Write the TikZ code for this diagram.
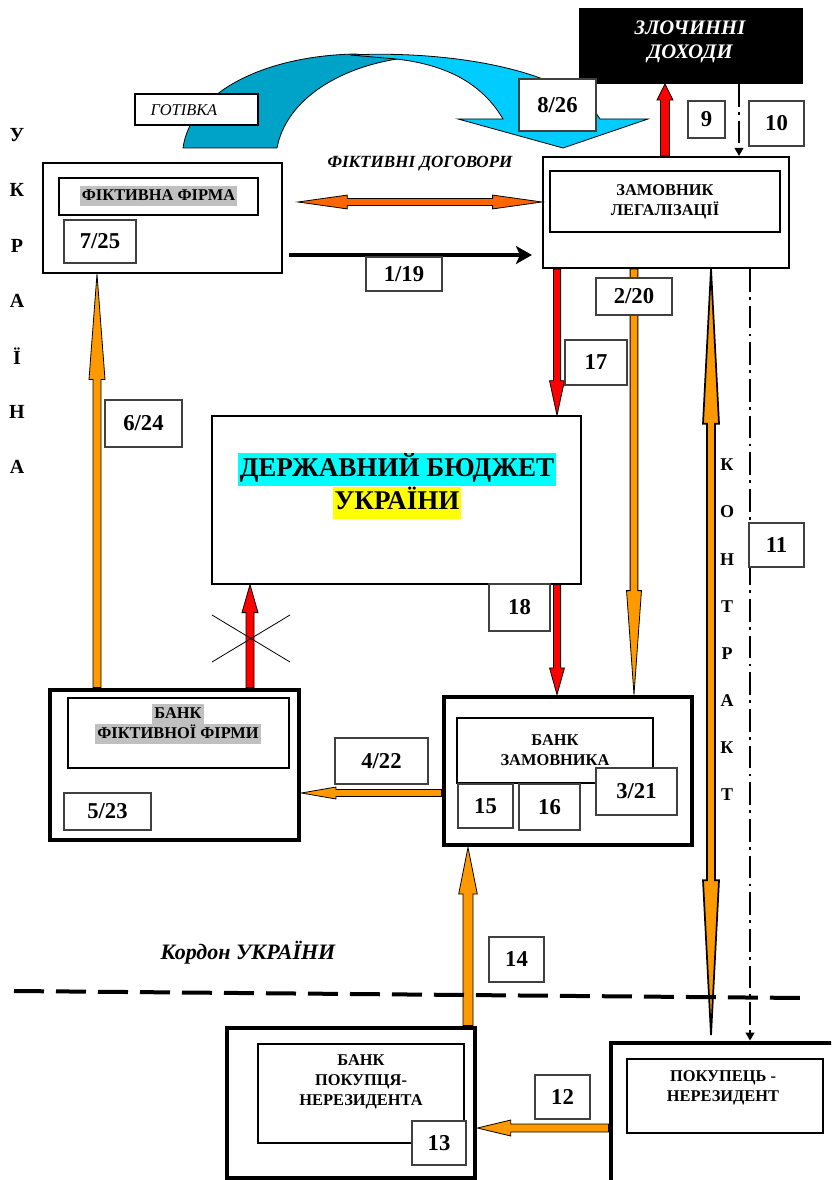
\documentclass[tikz,border=0pt]{standalone}
\usepackage{fontspec}
\setmainfont{Liberation Serif}
\usetikzlibrary{arrows.meta,positioning,calc}

\definecolor{arrorange}{HTML}{FF9900}
\definecolor{dealorange}{HTML}{FF6600}
\definecolor{cashdark}{HTML}{00A3C8}
\definecolor{cashlight}{HTML}{00CCFF}
\definecolor{hlgray}{HTML}{C0C0C0}
\definecolor{hlcyan}{HTML}{00FFFF}
\definecolor{hlyellow}{HTML}{FFFF00}

\newcommand{\numfnt}{\bfseries\fontsize{17}{20}\selectfont}
\newcommand{\boxfnt}{\bfseries\fontsize{12.3}{15}\selectfont}
\newcommand{\hlbox}[2]{{\fboxsep=0pt\colorbox{#1}{\strut\kern1.5pt#2\kern1.5pt}}}

% block arrow: style, shaft half width, head half width, head length, from, to
\newcommand{\blockarrow}[6]{%
  \coordinate (fa-h) at ($(#6)!#4!(#5)$);
  \filldraw[#1] ($(#5)!#2!90:(#6)$) -- ($(fa-h)!#2!90:(#6)$) -- ($(fa-h)!#3!90:(#6)$)
    -- (#6) -- ($(fa-h)!#3!-90:(#6)$) -- ($(fa-h)!#2!-90:(#6)$) -- ($(#5)!#2!-90:(#6)$) -- cycle;
}
% the same with a head at each end
\newcommand{\doublearrow}[6]{%
  \coordinate (fa-a) at ($(#5)!#4!(#6)$);
  \coordinate (fa-b) at ($(#6)!#4!(#5)$);
  \filldraw[#1] (#5) -- ($(fa-a)!#3!90:(#6)$) -- ($(fa-a)!#2!90:(#6)$) -- ($(fa-b)!#2!90:(#6)$)
    -- ($(fa-b)!#3!90:(#6)$) -- (#6) -- ($(fa-b)!#3!-90:(#6)$) -- ($(fa-b)!#2!-90:(#6)$)
    -- ($(fa-a)!#2!-90:(#6)$) -- ($(fa-a)!#3!-90:(#6)$) -- cycle;
}

\begin{document}
\begin{tikzpicture}[
    x=0.75pt, y=-0.75pt,
    font=\boxfnt,
    rect/.style 2 args={minimum width=#1*0.75pt, minimum height=#2*0.75pt},
    outerbox/.style={draw, line width=1.6pt, inner sep=0pt},
    bankbox/.style={draw, line width=3.6pt, inner sep=0pt},
    thinbox/.style={draw, line width=0.9pt, inner sep=0pt, fill=white},
    innerbox/.style={draw, line width=0.8pt, inner sep=0pt, align=center, font=\boxfnt},
    numbox/.style={draw=black!75, line width=0.9pt, fill=white, inner sep=0pt, font=\numfnt},
    orangearr/.style={fill=arrorange, draw=black, line width=0.6pt},
    redarr/.style={fill=red, draw=black, line width=0.6pt},
    dealarr/.style={fill=dealorange, draw=black, line width=0.6pt},
    contractarr/.style={fill=arrorange, draw=black, line width=1.3pt},
    payline/.style={line width=2.3pt, -{Stealth[length=12pt, width=13.5pt, inset=3pt]}},
    dashdotline/.style={line width=1.5pt, dash pattern=on 17pt off 4pt on 2pt off 4.5pt,
        -{Triangle[length=6pt, width=6.5pt]}},
    bigletter/.style={font=\bfseries\fontsize{15}{17}\selectfont},
    smallletter/.style={font=\bfseries\fontsize{13.5}{16}\selectfont},
    italictext/.style={font=\bfseries\itshape\fontsize{12.8}{15}\selectfont}
]
    \path[use as bounding box, fill=white] (0,0) rectangle (831,1180);
    \clip (0,0) rectangle (831,1180);

    % Cash flow (curved arrow)
    \path[fill=cashdark, draw=black, line width=0.6pt] (183,148) .. controls (190,95) and (260,56) .. (355,54)
        -- (397,59) .. controls (330,70) and (285,105) .. (277,148) -- cycle;
    \path[fill=cashlight, draw=black, line width=0.6pt] (350,55) .. controls (450,50) and (570,70) .. (600,119)
        -- (648,119) -- (563,148) -- (458,119) -- (503,119) .. controls (480,80) and (440,62) .. (385,58) -- cycle;

    % Node placement
    \node[outerbox, fill=black, rect={222}{74}] (crime) at (691,46) {};
    \node[text=white, font=\bfseries\itshape\fontsize{15.5}{17.5}\selectfont, align=center] (crimetxt) at (690,42) {ЗЛОЧИННІ\\ДОХОДИ};
    \node[thinbox, rect={123}{31}] (cash) at (196.5,109.5) {};
    \node[font=\itshape\fontsize{12.3}{14}\selectfont, anchor=west] (cashtxt) at (146,110) {ГОТІВКА};

    \node[outerbox, rect={246}{111}] (client) at (666,212.5) {};
    \node[innerbox, rect={230}{61}] (clientin) at (665,201.5) {ЗАМОВНИК\\ЛЕГАЛІЗАЦІЇ};

    \node[outerbox, rect={239}{110}] (fict) at (162.5,218) {};
    \node[innerbox, rect={199}{37}] (fictin) at (158.5,196.5) {\hlbox{hlgray}{ФІКТИВНА ФІРМА}};

    \node[thinbox, rect={369}{168}] (budget) at (396.5,500) {};
    \node[font=\bfseries\fontsize{20.3}{23.5}\selectfont, align=center] (budgettxt) at (397,486)
        {\hlbox{hlcyan}{ДЕРЖАВНИЙ БЮДЖЕТ}\\\hlbox{hlyellow}{УКРАЇНИ}};

    \node[bankbox, rect={249}{150}] (bankf) at (174.5,765) {};
    \node[innerbox, rect={221}{70}] (bankfin) at (178.5,733) {};
    \node[align=center] (bankftxt) at (178,724) {\hlbox{hlgray}{БАНК}\\\hlbox{hlgray}{ФІКТИВНОЇ ФІРМИ}};

    \node[bankbox, rect={248}{148}] (bankc) at (568,771) {};
    \node[innerbox, rect={196}{65}] (bankcin) at (555,750.5) {БАНК\\ЗАМОВНИКА};

    \node[bankbox, rect={248}{150}] (bankb) at (351,1103) {};
    \node[innerbox, rect={206}{99}] (bankbin) at (361,1093.5) {};
    \node[align=center] (bankbtxt) at (361,1082) {БАНК\\ПОКУПЦЯ-\\НЕРЕЗИДЕНТА};

    \node[bankbox, rect={239}{157}] (buyer) at (730.5,1121.5) {};
    \node[innerbox, rect={196}{74}] (buyerin) at (725,1096) {};
    \node[align=center] (buyertxt) at (723,1088) {ПОКУПЕЦЬ -\\НЕРЕЗИДЕНТ};

    \coordinate (dealstart) at (298,202);
    \coordinate (paystart) at (289,255);
    \coordinate (contractend) at (711,1035);

    % Connections
    \blockarrow{redarr}{3.4pt}{6pt}{12pt}{665,0 |- client.north}{665,0 |- crime.south}
    \draw[dashdotline] (739,0 |- crime.south) -- (739,0 |- client.north);
    \doublearrow{dealarr}{2.6pt}{5.2pt}{37pt}{dealstart}{client.west |- dealstart}
    \draw[payline, shorten >=7.5pt] (paystart) -- (client.west |- paystart);
    \blockarrow{orangearr}{3pt}{6pt}{79pt}{97,0 |- bankf.north}{97,0 |- fict.south}
    \blockarrow{redarr}{2.7pt}{5.6pt}{26pt}{557,0 |- client.south}{557,0 |- budget.north}
    \blockarrow{redarr}{2.7pt}{5.6pt}{20pt}{557,0 |- budget.south}{557,0 |- bankc.north}
    \blockarrow{orangearr}{2.9pt}{5.6pt}{78pt}{634,0 |- client.south}{634,0 |- bankc.north}
    \doublearrow{contractarr}{3pt}{6pt}{116pt}{711,0 |- client.south}{contractend}
    \draw[dashdotline] (750,0 |- client.south) -- (750,0 |- buyer.north);
    \blockarrow{redarr}{3pt}{6pt}{21pt}{250,0 |- bankf.north}{250,0 |- budget.south}
    \draw[line width=0.6pt] (212,615) -- (290,662) (212,662) -- (290,615);
    \blockarrow{orangearr}{2.6pt}{4.5pt}{26pt}{bankc.west |- 0,793}{bankf.east |- 0,793}
    \blockarrow{orangearr}{3.75pt}{7pt}{35pt}{468,0 |- bankb.north}{468,0 |- bankc.south}
    \blockarrow{orangearr}{3pt}{6pt}{25pt}{buyer.west |- 0,1128}{bankb.east |- 0,1128}

    % State border
    \draw[line width=3pt, dash pattern=on 22.5pt off 9pt] (14,991) -- (803,998);

    % Step numbers
    \node[numbox, rect={77}{52}] (n826) at (557.5,105) {8/26};
    \node[numbox, rect={37}{37}] (n9) at (706.5,119.5) {9};
    \node[numbox, rect={55}{45}] (n10) at (776.5,123.5) {10};
    \node[numbox, rect={72}{43}] (n725) at (100,241.5) {7/25};
    \node[numbox, rect={76}{34}] (n119) at (404,274) {1/19};
    \node[numbox, rect={76}{37}] (n220) at (634,296.5) {2/20};
    \node[numbox, rect={62}{45}] (n17) at (596,362.5) {17};
    \node[numbox, rect={77}{47}] (n624) at (143.5,423.5) {6/24};
    \node[numbox, rect={55}{44}] (n11) at (776.5,545) {11};
    \node[numbox, rect={61}{47}] (n18) at (519.5,607.5) {18};
    \node[numbox, rect={93}{46}] (n422) at (381.5,761) {4/22};
    \node[numbox, rect={87}{37}] (n523) at (107.5,811.5) {5/23};
    \node[numbox, rect={55}{44}] (n15) at (485.5,806) {15};
    \node[numbox, rect={61}{46}] (n16) at (549.5,807) {16};
    \node[numbox, rect={81}{47}] (n321) at (636.5,791.5) {3/21};
    \node[numbox, rect={55}{45}] (n14) at (516.5,959.5) {14};
    \node[numbox, rect={55}{44}] (n12) at (562.5,1097) {12};
    \node[numbox, rect={54}{44}] (n13) at (439,1143) {13};

    % Texts
    \node[italictext] (dealtxt) at (420,164) {ФІКТИВНІ ДОГОВОРИ};
    \node[font=\bfseries\itshape\fontsize{16.5}{19}\selectfont] (bordertxt) at (248,953) {Кордон УКРАЇНИ};
    \foreach \ch [count=\i from 0] in {У,К,Р,А,Ї,Н,А}
        \node[bigletter] (ua\i) at (17,135+55.3*\i) {\ch};
    \foreach \ch [count=\i from 0] in {К,О,Н,Т,Р,А,К,Т}
        \node[smallletter] (ct\i) at (727,465+47.1*\i) {\ch};
\end{tikzpicture}
\end{document}
